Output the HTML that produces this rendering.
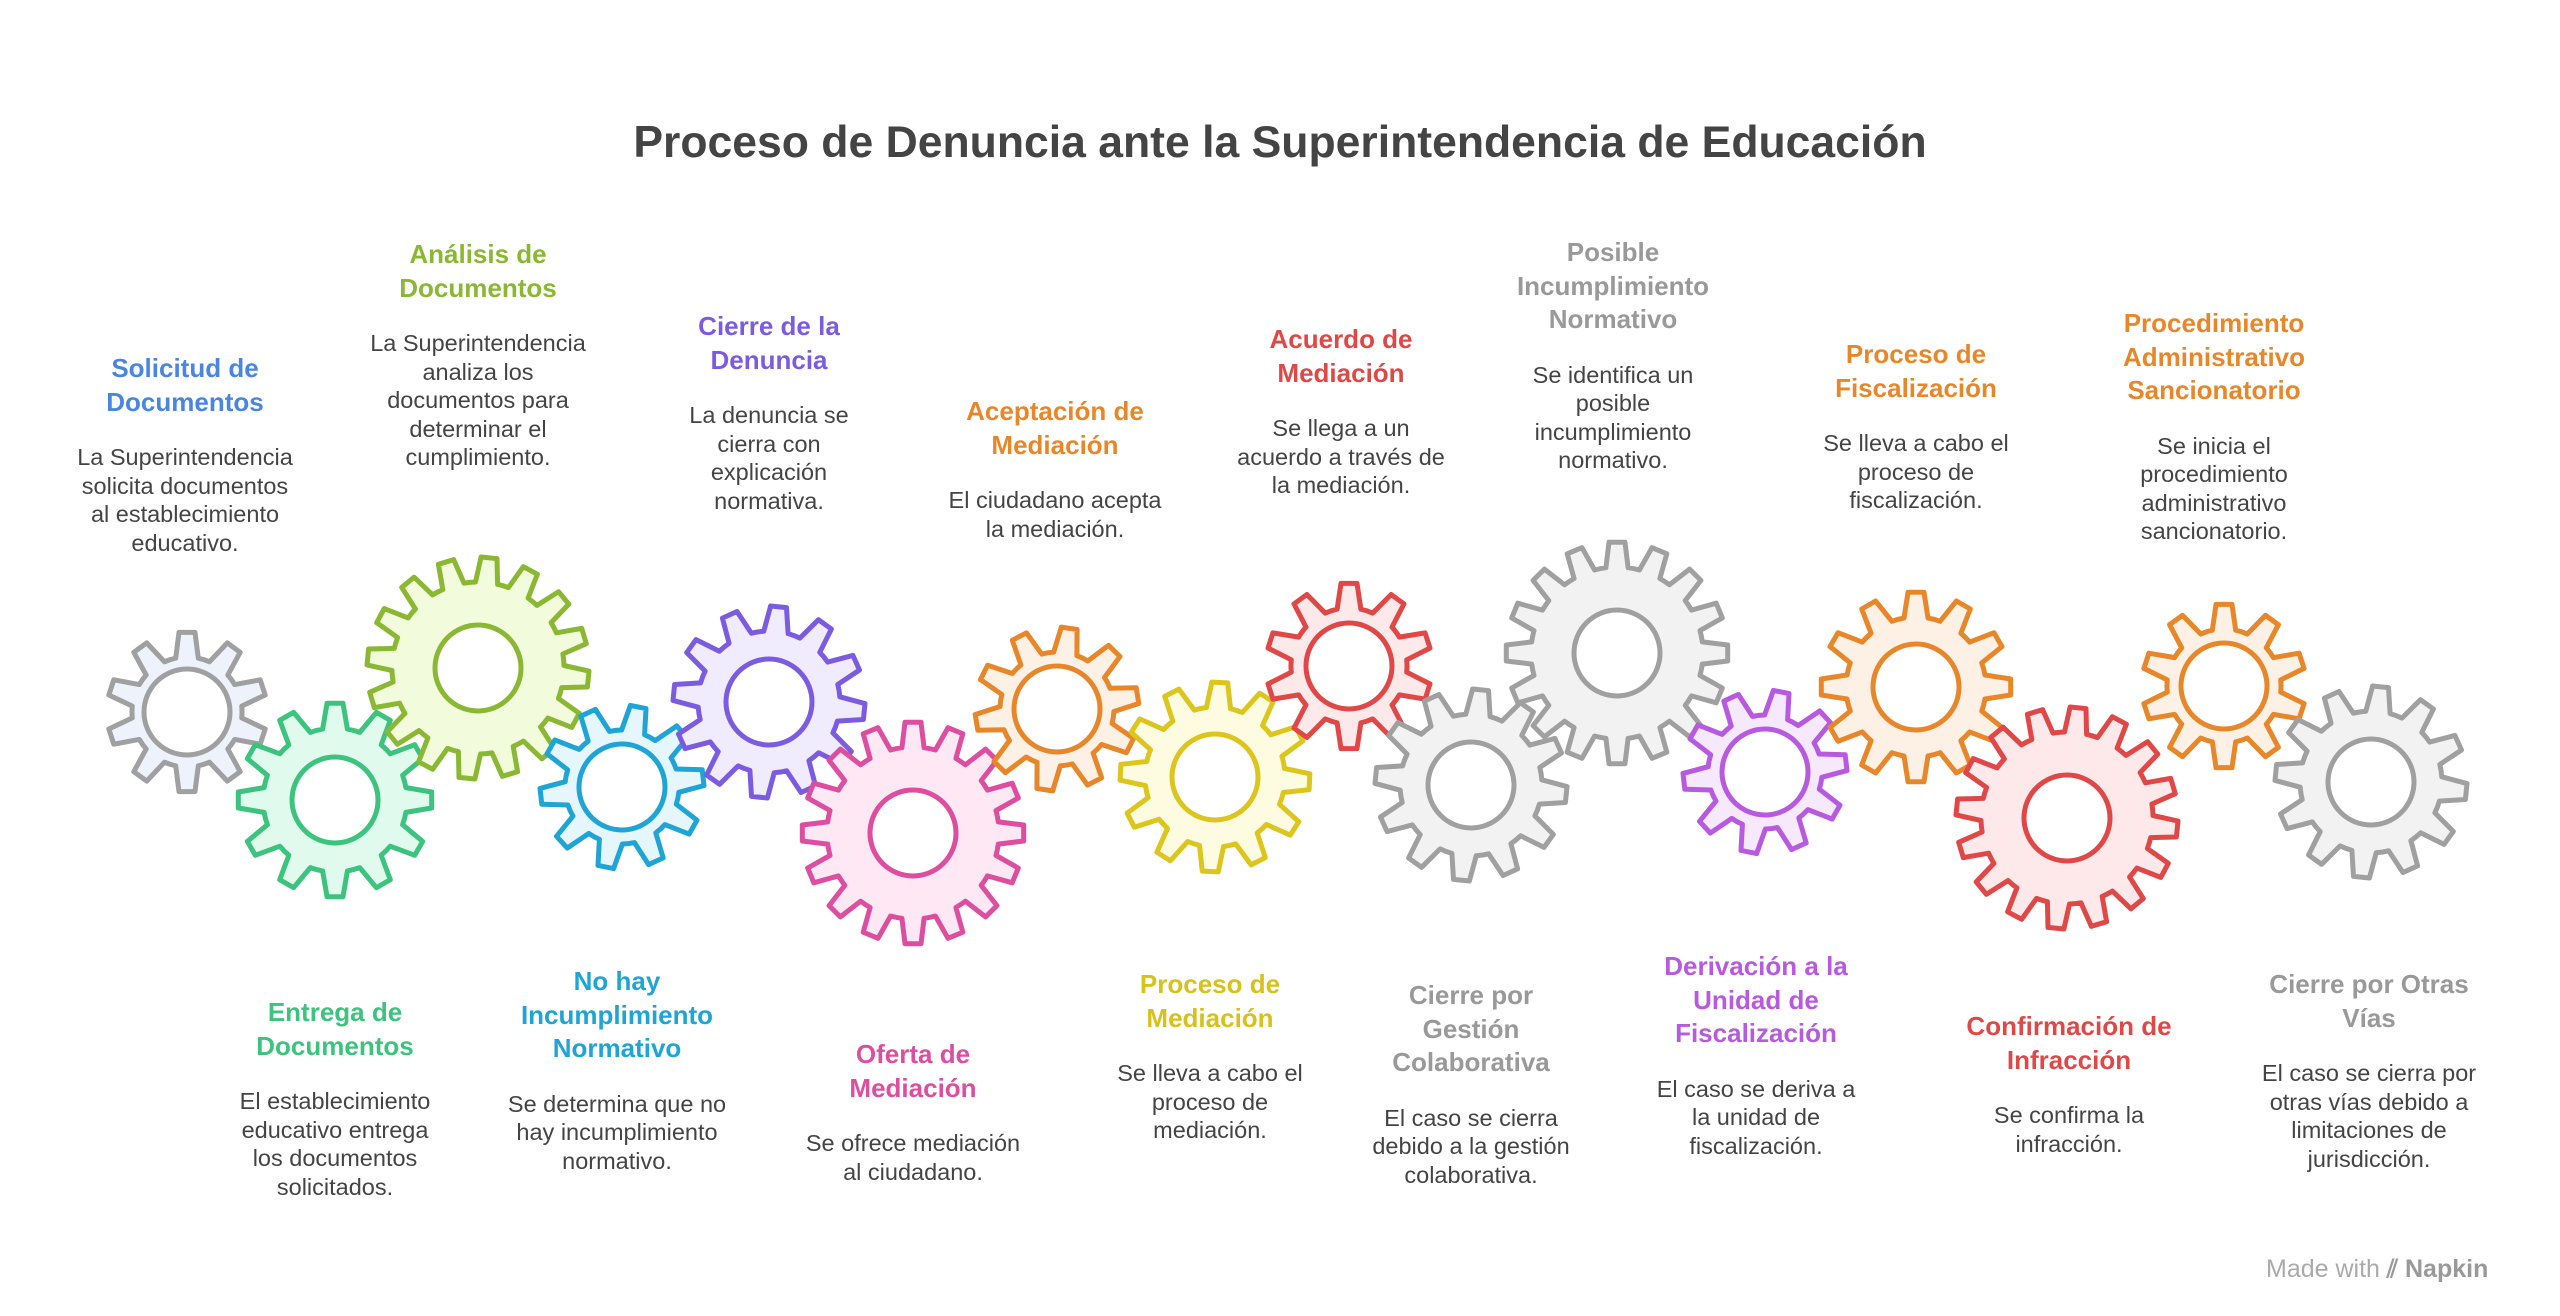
<!DOCTYPE html>
<html><head><meta charset="utf-8">
<style>
html,body{margin:0;padding:0;background:#fff;}
body{width:2560px;height:1316px;position:relative;overflow:hidden;font-family:"Liberation Sans",Arial,sans-serif;}
#g{position:absolute;left:0;top:0;}
.main{position:absolute;left:0;width:2560px;top:115px;text-align:center;font-size:44.5px;font-weight:bold;color:#444;line-height:56px;}
.b{position:absolute;width:320px;text-align:center;}
.t{font-weight:bold;font-size:26px;line-height:33.5px;}
.d{font-size:23.5px;line-height:28.6px;color:#444;margin-top:24px;}
.mw{position:absolute;left:2266px;top:1255px;font-size:25px;color:#aaa;}
</style></head><body>
<svg id="g" width="2560" height="1316" xmlns="http://www.w3.org/2000/svg"></svg>
<div class="main">Proceso de Denuncia ante la Superintendencia de Educación</div>

<div class="b" style="left:25px;top:352px"><div class="t" style="color:#4a86e0">Solicitud de<br>Documentos</div><div class="d">La Superintendencia<br>solicita documentos<br>al establecimiento<br>educativo.</div></div>
<div class="b" style="left:318px;top:238px"><div class="t" style="color:#8ab833">Análisis de<br>Documentos</div><div class="d">La Superintendencia<br>analiza los<br>documentos para<br>determinar el<br>cumplimiento.</div></div>
<div class="b" style="left:609px;top:310px"><div class="t" style="color:#7b5ce0">Cierre de la<br>Denuncia</div><div class="d">La denuncia se<br>cierra con<br>explicación<br>normativa.</div></div>
<div class="b" style="left:895px;top:395px"><div class="t" style="color:#e8872a">Aceptación de<br>Mediación</div><div class="d">El ciudadano acepta<br>la mediación.</div></div>
<div class="b" style="left:1181px;top:323px"><div class="t" style="color:#e04848">Acuerdo de<br>Mediación</div><div class="d">Se llega a un<br>acuerdo a través de<br>la mediación.</div></div>
<div class="b" style="left:1453px;top:236px"><div class="t" style="color:#999">Posible<br>Incumplimiento<br>Normativo</div><div class="d">Se identifica un<br>posible<br>incumplimiento<br>normativo.</div></div>
<div class="b" style="left:1756px;top:338px"><div class="t" style="color:#e8872a">Proceso de<br>Fiscalización</div><div class="d">Se lleva a cabo el<br>proceso de<br>fiscalización.</div></div>
<div class="b" style="left:2054px;top:307px"><div class="t" style="color:#e8872a">Procedimiento<br>Administrativo<br>Sancionatorio</div><div class="d">Se inicia el<br>procedimiento<br>administrativo<br>sancionatorio.</div></div>

<div class="b" style="left:175px;top:996px"><div class="t" style="color:#3cc47f">Entrega de<br>Documentos</div><div class="d">El establecimiento<br>educativo entrega<br>los documentos<br>solicitados.</div></div>
<div class="b" style="left:457px;top:965px"><div class="t" style="color:#1ea5d6">No hay<br>Incumplimiento<br>Normativo</div><div class="d">Se determina que no<br>hay incumplimiento<br>normativo.</div></div>
<div class="b" style="left:753px;top:1038px"><div class="t" style="color:#dd4ea0">Oferta de<br>Mediación</div><div class="d">Se ofrece mediación<br>al ciudadano.</div></div>
<div class="b" style="left:1050px;top:968px"><div class="t" style="color:#d8c11a">Proceso de<br>Mediación</div><div class="d">Se lleva a cabo el<br>proceso de<br>mediación.</div></div>
<div class="b" style="left:1311px;top:979px"><div class="t" style="color:#999">Cierre por<br>Gestión<br>Colaborativa</div><div class="d">El caso se cierra<br>debido a la gestión<br>colaborativa.</div></div>
<div class="b" style="left:1596px;top:950px"><div class="t" style="color:#b85ae0">Derivación a la<br>Unidad de<br>Fiscalización</div><div class="d">El caso se deriva a<br>la unidad de<br>fiscalización.</div></div>
<div class="b" style="left:1909px;top:1010px"><div class="t" style="color:#e04848">Confirmación de<br>Infracción</div><div class="d">Se confirma la<br>infracción.</div></div>
<div class="b" style="left:2209px;top:968px"><div class="t" style="color:#999">Cierre por Otras<br>Vías</div><div class="d">El caso se cierra por<br>otras vías debido a<br>limitaciones de<br>jurisdicción.</div></div>

<div class="mw">Made with <b style="color:#999">⫽ Napkin</b></div>

<script>
var gears=[
[187,712,80,10,'#a0a0a0','#edf2fc',0],
[335,800,97,12,'#3cc47f','#e0faee',0],
[478,668,111,16,'#8ab833','#f2fbdc',0.1],
[622,787,82,10,'#1ea5d6','#e6f6fd',0.2],
[769,702,96,12,'#7b5ce0','#f0ebfd',0.1],
[913,833,111,16,'#dd4ea0','#fde8f4',0],
[1057,709,82,10,'#e8872a','#fdf0e4',0.15],
[1215,777,95,12,'#dcc51c','#fdfbe0',0.05],
[1349,666,83,10,'#e04848','#fde9e9',0],
[1471,785,96,12,'#a0a0a0','#f2f2f2',0.1],
[1617,653,111,16,'#a0a0a0','#f2f2f2',0],
[1765,772,82,10,'#b85ae0','#f6e8fd',0.2],
[1916,687,95,12,'#e8872a','#fdf0e4',0],
[2067,818,111,16,'#e04848','#fde9e9',0.1],
[2224,686,82,10,'#e8872a','#fdf0e4',0],
[2371,782,96,12,'#a0a0a0','#f2f2f2',0.1]];
var s='';
gears.forEach(function(g){
var cx=g[0],cy=g[1],R=g[2],n=g[3],r=R-25,p=2*Math.PI/n,rot=g[6]-Math.PI/2,d='';
function pt(rad,a){return (cx+rad*Math.cos(a)).toFixed(1)+','+(cy+rad*Math.sin(a)).toFixed(1);}
for(var i=0;i<n;i++){var a=rot+i*p;
var tw=8/R, bw=0.33*p;
d+=(i?'L':'M')+pt(r,a-bw)+'L'+pt(R,a-tw)+'L'+pt(R,a+tw)+'L'+pt(r,a+bw);
d+='A'+r+','+r+' 0 0 1 '+pt(r,a+p-bw);}
d+='Z';
s+='<path d="'+d+'" fill="'+g[5]+'" stroke="'+g[4]+'" stroke-width="5" stroke-linejoin="round"/>';
s+='<circle cx="'+cx+'" cy="'+cy+'" r="43" fill="#fff" stroke="'+g[4]+'" stroke-width="5"/>';
});
document.getElementById('g').innerHTML=s;
</script>
</body></html>
